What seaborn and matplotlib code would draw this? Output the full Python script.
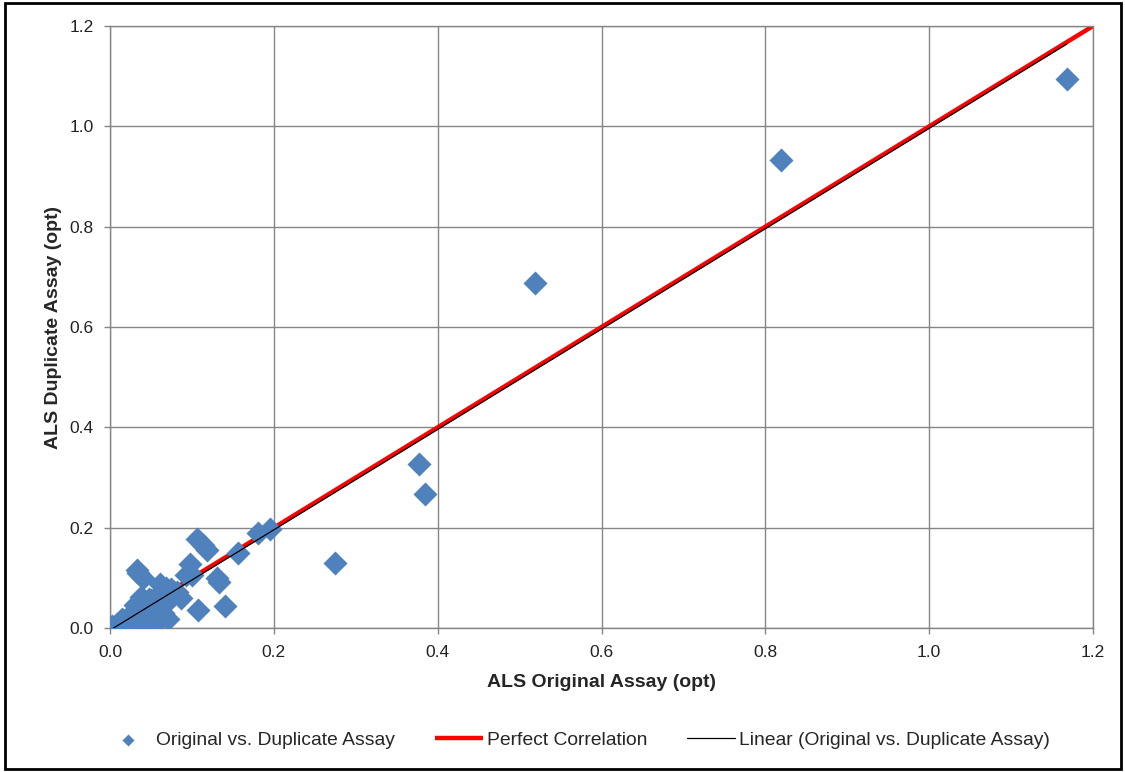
import numpy as np
import pandas as pd
import seaborn as sns
import matplotlib.pyplot as plt
from matplotlib.patches import Rectangle

# original vs duplicate assay values (opt)
original = [1.168, 0.819, 0.519, 0.377, 0.385, 0.275, 0.195, 0.181, 0.156,
            0.106, 0.113, 0.118, 0.140, 0.107, 0.133, 0.131, 0.098, 0.100,
            0.093, 0.033, 0.040, 0.034, 0.061, 0.068, 0.079, 0.087, 0.071,
            0.062, 0.055, 0.037, 0.043, 0.031, 0.024, 0.018, 0.009, 0.003,
            0.000, 0.005, 0.012, 0.022, 0.028, 0.034, 0.045, 0.050, 0.056,
            0.063, 0.075, 0.082, 0.047, 0.052, 0.040, 0.058, 0.066, 0.070,
            0.030, 0.026, 0.015, 0.036, 0.044, 0.060, 0.020, 0.008, 0.054,
            0.048, 0.038, 0.065]
duplicate = [1.094, 0.933, 0.688, 0.327, 0.267, 0.130, 0.197, 0.189, 0.150,
             0.178, 0.166, 0.156, 0.044, 0.036, 0.092, 0.100, 0.128, 0.106,
             0.106, 0.116, 0.100, 0.110, 0.088, 0.080, 0.070, 0.060, 0.018,
             0.022, 0.030, 0.052, 0.040, 0.006, 0.014, 0.012, 0.008, 0.004,
             0.002, 0.000, 0.004, 0.022, 0.030, 0.036, 0.048, 0.056, 0.062,
             0.068, 0.078, 0.072, 0.020, 0.012, 0.010, 0.040, 0.046, 0.056,
             0.046, 0.020, 0.018, 0.024, 0.030, 0.016, 0.006, 0.002, 0.046,
             0.058, 0.062, 0.030]
perfect = [0.0, 1.2]
ticks = [0.0, 0.2, 0.4, 0.6, 0.8, 1.0, 1.2]

df = pd.DataFrame({'orig': original, 'dup': duplicate})

sns.set_style('white')
plt.rcParams['font.family'] = ['Liberation Sans', 'DejaVu Sans']

fig = plt.figure(figsize=(11.25, 7.72), dpi=100)
ax = fig.add_axes([0.0978, 0.1865, 0.8738, 0.7798])

grey = '#868686'

# Scatter
sns.scatterplot(data=df, x='orig', y='dup', ax=ax, marker='D', s=150,
                color='#4F81BD', edgecolor='#4F81BD', linewidth=0,
                label='Original vs. Duplicate Assay', zorder=3)

# Perfect correlation line (sits under the markers)
ax.plot(perfect, perfect, color='#FF0000', lw=3.2, zorder=2.5,
        label='Perfect Correlation', solid_capstyle='butt')

# Linear trendline
slope, intercept = np.polyfit(df['orig'], df['dup'], 1)
xs = np.array([df['orig'].min(), df['orig'].max()])
ax.plot(xs, slope * xs + intercept, color='black', lw=0.9, zorder=5,
        label='Linear (Original vs. Duplicate Assay)')

ax.set_xlim(0, 1.2)
ax.set_ylim(0, 1.2)
ax.set_xticks(ticks)
ax.set_yticks(ticks)
ax.set_xticklabels([f'{t:.1f}' for t in ticks])
ax.set_yticklabels([f'{t:.1f}' for t in ticks])
ax.grid(True, color=grey, lw=1)
ax.set_axisbelow(True)
for s in ax.spines.values():
    s.set_color(grey)
    s.set_linewidth(1)
ax.tick_params(axis='both', colors=grey, labelcolor='#222222', labelsize=12.5,
               length=4.5, width=1, direction='out', left=True, bottom=True)
ax.tick_params(axis='x', pad=7.5)
ax.tick_params(axis='y', pad=7.2)

ax.set_xlabel('ALS Original Assay (opt)', fontsize=14, fontweight='bold',
              labelpad=10.5)
ax.set_ylabel('ALS Duplicate Assay (opt)', fontsize=14, fontweight='bold',
              labelpad=5.5)

leg = ax.legend(loc='center left', bbox_to_anchor=(104 / 1125, 1 - 740 / 772),
                bbox_transform=fig.transFigure, ncol=3, frameon=False,
                fontsize=13.9, markerscale=0.5, handlelength=2.5,
                columnspacing=2.05, handletextpad=0.2, borderpad=0,
                borderaxespad=0)

# Outer border
fig.patches.append(Rectangle((0.004, 0.004), 0.992, 0.992,
                             transform=fig.transFigure, fill=False,
                             edgecolor='black', lw=2))

fig.savefig('out.png', dpi=100)
